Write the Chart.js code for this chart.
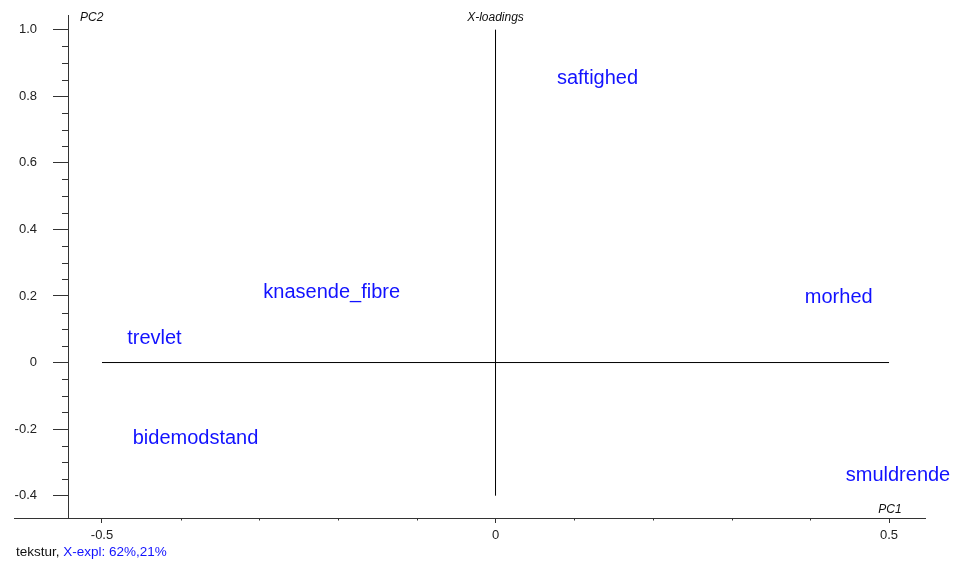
<!DOCTYPE html>
<html>
<head>
<meta charset="utf-8">
<script src="https://cdn.jsdelivr.net/npm/chart.js@4/dist/chart.umd.min.js"></script>
<style>
  html, body { margin: 0; padding: 0; background: #fff; }
  canvas { display: block; }
</style>
</head>
<body>
<canvas id="loadings" width="958" height="563"></canvas>
<script>
// X-loadings, PC1 vs PC2
const variables = ['saftighed', 'knasende_fibre', 'trevlet', 'bidemodstand', 'morhed', 'smuldrende'];
const pc1 = [0.078, -0.295, -0.468, -0.461, 0.393, 0.445];
const pc2 = [0.853, 0.210, 0.073, -0.227, 0.196, -0.338];

const xTicks = [-0.5, 0, 0.5];
const xTickLabels = ['-0.5', '0', '0.5'];
const yTicks = [-0.4, -0.2, 0, 0.2, 0.4, 0.6, 0.8, 1.0];
const yTickLabels = ['-0.4', '-0.2', '0', '0.2', '0.4', '0.6', '0.8', '1.0'];

const FONT = '"Liberation Sans", Arial, Helvetica, sans-serif';
const axisColor = '#333';
const labelBlue = '#1212ff';

const points = variables.map((name, i) => ({ x: pc1[i], y: pc2[i] }));

// minor tick marks and the text around the plot
const decorations = {
  id: 'decorations',
  afterDraw(chart) {
    const ctx = chart.ctx;
    const xs = chart.scales.x;
    const ys = chart.scales.y;
    const area = chart.chartArea;
    ctx.save();
    ctx.strokeStyle = axisColor;
    ctx.lineWidth = 1;

    // x axis runs on past the y axis
    const yb = Math.round(area.bottom) + 0.5;
    ctx.beginPath();
    ctx.moveTo(Math.round(xs.getPixelForValue(-0.612)), yb);
    ctx.lineTo(area.left, yb);
    ctx.stroke();

    // minor ticks on y, every 0.05
    for (let i = 0; i <= 28; i++) {
      if (i % 4 === 0) continue;
      const py = Math.round(ys.getPixelForValue(-0.4 + i * 0.05)) + 0.5;
      ctx.beginPath();
      ctx.moveTo(area.left - 6, py);
      ctx.lineTo(area.left, py);
      ctx.stroke();
    }
    // minor ticks on x, every 0.1
    for (let i = 0; i <= 10; i++) {
      if (i % 5 === 0) continue;
      const px = Math.round(xs.getPixelForValue(-0.5 + i * 0.1)) + 0.5;
      ctx.beginPath();
      ctx.moveTo(px, area.bottom);
      ctx.lineTo(px, area.bottom + 2.5);
      ctx.stroke();
    }

    // axis captions
    ctx.fillStyle = '#111';
    ctx.font = 'italic 12px ' + FONT;
    ctx.textBaseline = 'middle';
    ctx.textAlign = 'left';
    ctx.fillText('PC2', area.left + 12, 18);
    ctx.textAlign = 'center';
    ctx.fillText('X-loadings', xs.getPixelForValue(0), 18);
    ctx.fillText('PC1', xs.getPixelForValue(0.5) + 1, 510);

    // footer
    ctx.font = '13.5px ' + FONT;
    ctx.textAlign = 'left';
    ctx.fillStyle = '#111';
    const lead = 'tekstur, ';
    ctx.fillText(lead, 16, 552);
    ctx.fillStyle = labelBlue;
    ctx.fillText('X-expl: 62%,21%', 16 + ctx.measureText(lead).width, 552);

    // variable names at their loadings
    const meta = chart.getDatasetMeta(2);
    ctx.font = '20px ' + FONT;
    ctx.fillStyle = labelBlue;
    ctx.textAlign = 'left';
    ctx.textBaseline = 'middle';
    meta.data.forEach((pt, i) => {
      ctx.fillText(variables[i], pt.x, pt.y);
    });
    ctx.restore();
  }
};

new Chart(document.getElementById('loadings'), {
  type: 'scatter',
  data: {
    datasets: [
      {
        // vertical reference line at PC1 = 0
        data: [{ x: 0, y: -0.4 }, { x: 0, y: 1.0 }],
        showLine: true,
        borderColor: '#000',
        borderWidth: 1,
        pointRadius: 0
      },
      {
        // horizontal reference line at PC2 = 0
        data: [{ x: -0.5, y: 0 }, { x: 0.5, y: 0 }],
        showLine: true,
        borderColor: '#000',
        borderWidth: 1,
        pointRadius: 0
      },
      {
        data: points,
        pointRadius: 0,
        pointHoverRadius: 0
      }
    ]
  },
  options: {
    responsive: false,
    animation: false,
    events: [],
    layout: { padding: { top: 15, right: 33, left: 0, bottom: 0 } },
    plugins: {
      legend: { display: false },
      tooltip: { enabled: false }
    },
    scales: {
      x: {
        type: 'linear',
        min: -0.5432,
        max: 0.5457,
        afterFit(scale) {
          scale.height = 45;
          scale.paddingLeft = 0;
          scale.paddingRight = 0;
        },
        afterBuildTicks(scale) { scale.ticks = xTicks.map(v => ({ value: v })); },
        grid: {
          drawOnChartArea: false,
          drawTicks: true,
          tickLength: 5,
          color: axisColor
        },
        border: { display: true, color: axisColor, width: 1 },
        ticks: {
          padding: 5,
          color: '#222',
          font: { family: FONT, size: 13 },
          maxRotation: 0,
          autoSkip: false,
          callback: (v) => xTickLabels[xTicks.findIndex(t => Math.abs(t - v) < 1e-9)]
        }
      },
      y: {
        type: 'linear',
        min: -0.467,
        max: 1.044,
        afterFit(scale) {
          scale.width = 68;
          scale.paddingTop = 0;
          scale.paddingBottom = 0;
        },
        afterBuildTicks(scale) { scale.ticks = yTicks.map(v => ({ value: v })); },
        grid: {
          drawOnChartArea: false,
          drawTicks: true,
          tickLength: 15,
          color: axisColor
        },
        border: { display: true, color: axisColor, width: 1 },
        ticks: {
          padding: 16,
          color: '#222',
          font: { family: FONT, size: 13 },
          autoSkip: false,
          callback: (v) => yTickLabels[yTicks.findIndex(t => Math.abs(t - v) < 1e-9)]
        }
      }
    }
  },
  plugins: [decorations]
});
</script>
</body>
</html>
